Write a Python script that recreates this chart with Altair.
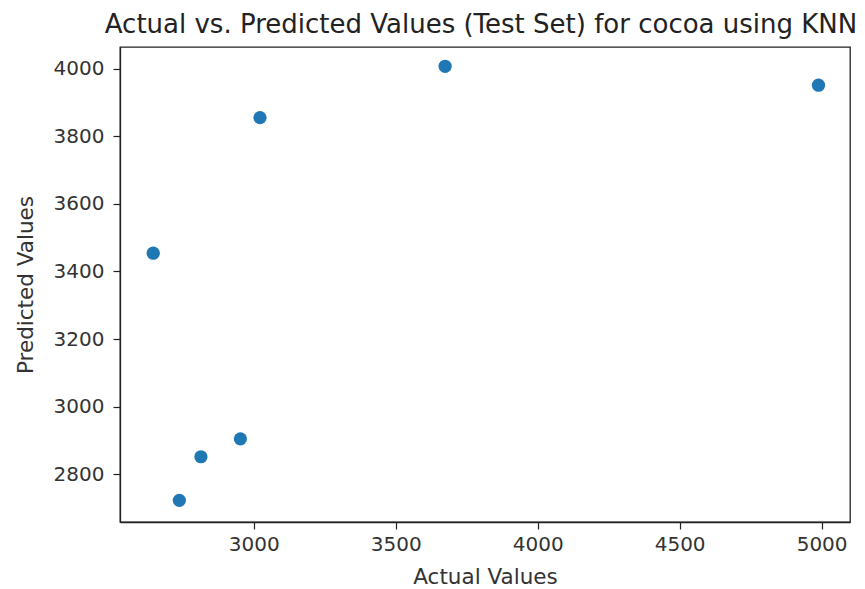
import altair as alt
import pandas as pd

actual = [3674, 3022, 2646, 2953, 2814, 2738, 4989]
predicted = [4007, 3855, 3454, 2905, 2852, 2723, 3951]
x_ticks = [3000, 3500, 4000, 4500, 5000]
y_ticks = [2800, 3000, 3200, 3400, 3600, 3800, 4000]

df = pd.DataFrame({"Actual": actual, "Predicted": predicted})

font = "DejaVu Sans"

chart = alt.Chart(df).mark_circle(size=175, opacity=1, color="#1f77b4").encode(
    x=alt.X("Actual:Q",
            scale=alt.Scale(domain=[2529, 5100], nice=False, zero=False),
            axis=alt.Axis(title="Actual Values", values=x_ticks, grid=False,
                          format="d", tickSize=7, labelPadding=5,
                          titlePadding=12)),
    y=alt.Y("Predicted:Q",
            scale=alt.Scale(domain=[2659, 4064], nice=False, zero=False),
            axis=alt.Axis(title="Predicted Values", values=y_ticks, grid=False,
                          format="d", tickSize=7, labelPadding=9,
                          titlePadding=16)),
).properties(
    width=730,
    height=475,
    background="white",
    title=alt.TitleParams("Actual vs. Predicted Values (Test Set) for cocoa using KNN",
                          fontSize=26, font=font, fontWeight="normal",
                          color="#222222", anchor="middle", offset=9, dx=-4),
    autosize=alt.AutoSizeParams(type="none"),
    padding={"left": 112, "top": 39, "right": 7, "bottom": 70},
).configure_view(
    stroke="#222222", strokeWidth=1.3
).configure_axis(
    domainColor="#222222", domainWidth=1.3, tickColor="#222222", tickWidth=1.2,
    labelFont=font, labelFontSize=20, labelColor="#333333",
    titleFont=font, titleFontSize=21.5, titleFontWeight="normal", titleColor="#333333",
)

chart.save("out.html", embed_options={"renderer": "svg", "actions": False})
